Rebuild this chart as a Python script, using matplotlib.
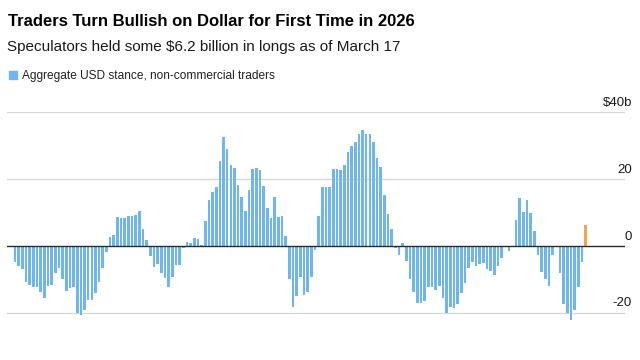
import matplotlib
matplotlib.use("Agg")
import matplotlib.pyplot as plt
from matplotlib.patches import Rectangle

# =========================
# data (weekly, oldest -> Mar 17 2026), $bn
# =========================
usd_stance = [
    -4.7, -5.9, -7.0, -10.7, -11.7, -12.2, -12.2, -13.7, -15.5, -11.9,
    -11.7, -8.0, -6.5, -10.0, -13.4, -12.7, -12.3, -20.0, -20.7, -19.2,
    -16.2, -16.2, -14.2, -10.7, -6.7, -1.7, 2.6, 3.3, 8.6, 8.3,
    8.5, 9.0, 9.0, 9.3, 10.5, 5.0, 1.8, -2.9, -6.2, -5.4,
    -8.0, -9.7, -12.2, -9.2, -5.7, -5.7, -0.5, 1.3, 0.8, 2.3,
    2.1, 0.2, 7.6, 13.6, 16.2, 17.6, 25.5, 32.6, 29.0, 24.3,
    23.3, 18.2, 14.5, 10.5, 16.6, 23.0, 23.3, 22.6, 17.8, 11.3,
    8.3, 14.6, 8.8, 9.1, 3.0, -9.8, -18.2, -14.9, -9.2, -14.7,
    -13.7, -9.2, -1.2, 9.0, 17.6, 17.5, 17.6, 23.1, 23.0, 22.6,
    24.3, 28.1, 29.8, 31.1, 33.6, 34.6, 33.6, 33.6, 31.0, 26.3,
    23.5, 15.3, 9.6, 5.0, -0.7, -2.7, 1.0, -4.4, -10.0, -13.9,
    -17.0, -17.0, -16.5, -12.2, -12.2, -13.2, -12.0, -15.7, -20.0, -18.2,
    -18.5, -17.5, -14.2, -11.2, -6.7, -4.7, -5.9, -5.4, -5.0, -7.0,
    -7.6, -8.7, -6.0, -3.7, -0.3, -1.5, 0.0, 7.7, 14.2, 10.2,
    13.7, 9.8, 4.6, -2.8, -7.8, -10.0, -12.0, -2.6, 0.0, -8.1,
    -17.4, -20.0, -22.2, -19.1, -12.4, -4.7, 6.2,
]

y_ticks = [-20, 0, 20, 40]
y_labels = ["-20", "0", "20", "\\$40b"]

title = "Traders Turn Bullish on Dollar for First Time in 2026"
subtitle = "Speculators held some \\$6.2 billion in longs as of March 17"
legend_label = "Aggregate USD stance, non-commercial traders"

blue = "#6fb5ee"
orange = "#f2a54f"

plt.rcParams['font.family'] = ['Liberation Sans', 'DejaVu Sans']

# =========================
# figure
# =========================
W, H = 640, 360
fig = plt.figure(figsize=(6.4, 3.6), dpi=100)
fig.patch.set_facecolor("white")

ax = fig.add_axes([7 / W, 30 / H, 618 / W, 218 / H])

n = len(usd_stance)
colors = [blue] * (n - 1) + [orange]
ax.bar(range(n), usd_stance, width=0.72, color=colors, linewidth=0, zorder=2)

# gridlines
for v in y_ticks:
    if v == 0:
        ax.axhline(v, color="#2b2b2b", linewidth=1.0, zorder=3)
    else:
        ax.axhline(v, color="#d6d6d6", linewidth=0.9, zorder=1)

ax.set_xlim(-2.19, 166.76)
ax.set_ylim(-25.18, 40.09)

# tick labels sit above their lines at the right edge
for v, lab in zip(y_ticks, y_labels):
    ax.text(1.0113, v + 1.9, lab, transform=ax.get_yaxis_transform(),
            ha="right", va="baseline", fontsize=9.5, color="#1a1a1a")

ax.set_xticks([])
ax.set_yticks([])
for spine in ax.spines.values():
    spine.set_visible(False)

# title / subtitle / legend
fig.text(8 / W, 1 - 26.5 / H, title, fontsize=12.0, fontweight="bold",
         color="black", va="baseline")
fig.text(7 / W, 1 - 50.7 / H, subtitle, fontsize=11, color="#1a1a1a",
         va="baseline")
fig.add_artist(Rectangle((9 / W, 1 - 79 / H), 7.5 / W, 7.5 / H,
                         transform=fig.transFigure, color=blue))
fig.text(22.5 / W, 1 - 79 / H, legend_label, fontsize=8.6, color="#222222",
         va="baseline")

fig.savefig("out.png", dpi=100)
